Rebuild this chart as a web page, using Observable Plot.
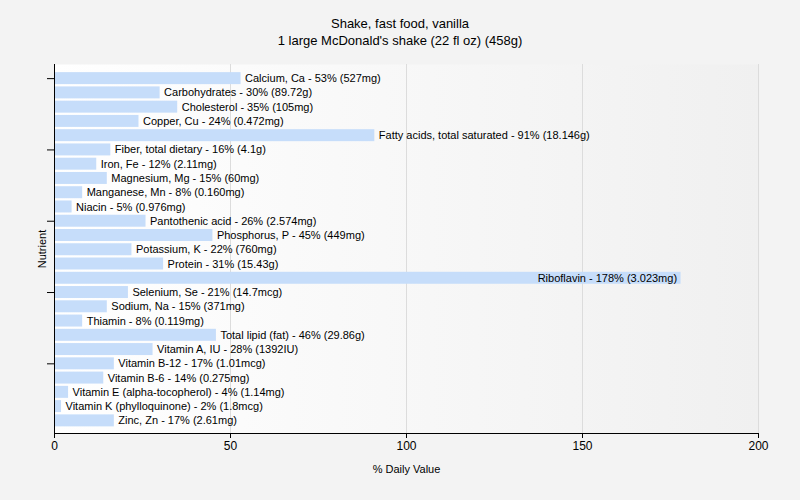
<!DOCTYPE html>
<html>
<head>
<meta charset="utf-8">
<script src="https://cdn.jsdelivr.net/npm/d3@7"></script>
<script src="https://cdn.jsdelivr.net/npm/@observablehq/plot@0.6"></script>
<style>
  html, body { margin: 0; padding: 0; background: #f3f3f3; }
  body { width: 800px; height: 500px; overflow: hidden; font-family: "Liberation Sans", Arial, sans-serif; }
  #title { height: 50px; box-sizing: border-box; padding-top: 15px; text-align: center; font-size: 13px; line-height: 17px; color: #000; }
</style>
</head>
<body>
<div id="title">Shake, fast food, vanilla<br>1 large McDonald's shake (22 fl oz) (458g)</div>
<div id="chart"></div>
<script>
const nutrients = [
  "Calcium, Ca", "Carbohydrates", "Cholesterol", "Copper, Cu", "Fatty acids, total saturated",
  "Fiber, total dietary", "Iron, Fe", "Magnesium, Mg", "Manganese, Mn", "Niacin",
  "Pantothenic acid", "Phosphorus, P", "Potassium, K", "Protein", "Riboflavin",
  "Selenium, Se", "Sodium, Na", "Thiamin", "Total lipid (fat)", "Vitamin A, IU",
  "Vitamin B-12", "Vitamin B-6", "Vitamin E (alpha-tocopherol)", "Vitamin K (phylloquinone)", "Zinc, Zn"
];
const dailyValue = [53, 30, 35, 24, 91, 16, 12, 15, 8, 5, 26, 45, 22, 31, 178, 21, 15, 8, 46, 28, 17, 14, 4, 2, 17];
const amounts = [
  "527mg", "89.72g", "105mg", "0.472mg", "18.146g",
  "4.1g", "2.11mg", "60mg", "0.160mg", "0.976mg",
  "2.574mg", "449mg", "760mg", "15.43g", "3.023mg",
  "14.7mcg", "371mg", "0.119mg", "29.86g", "1392IU",
  "1.01mcg", "0.275mg", "1.14mg", "1.8mcg", "2.61mg"
];
const xTicks = [0, 50, 100, 150, 200];
const yTickNutrients = ["Calcium, Ca", "Fiber, total dietary", "Pantothenic acid", "Selenium, Se", "Vitamin B-12"];

const data = nutrients.map((n, i) => ({
  nutrient: n,
  value: dailyValue[i],
  label: `${n} - ${dailyValue[i]}% (${amounts[i]})`
}));

const font = "Liberation Sans, Arial, sans-serif";

const axisLines = (index, scales, values, dimensions) => {
  const {width, height, marginLeft, marginRight, marginTop, marginBottom} = dimensions;
  const g = d3.create("svg:g").attr("stroke", "#000").attr("stroke-width", 1);
  const yb = height - marginBottom + 0.5;
  g.append("line").attr("x1", marginLeft).attr("x2", width - marginRight).attr("y1", yb).attr("y2", yb);
  g.append("line").attr("x1", marginLeft + 0.5).attr("x2", marginLeft + 0.5).attr("y1", marginTop).attr("y2", height - marginBottom);
  return g.node();
};

const plot = Plot.plot({
  width: 800,
  height: 450,
  marginLeft: 54,
  marginRight: 42,
  marginTop: 14,
  marginBottom: 67,
  style: {background: "transparent", fontFamily: font, fontSize: "12px", color: "#000"},
  x: {domain: [0, 200], label: null},
  y: {domain: nutrients, range: [21, 377.5], paddingInner: 0.16, paddingOuter: 0.08, round: false, label: null},
  marks: [
    Plot.frame({fill: "url(#plotbg)", stroke: "none"}),
    Plot.gridX({ticks: xTicks.slice(1), stroke: "#dcdcdc", strokeOpacity: 1}),
    Plot.barX(data, {x: "value", y: "nutrient", fill: "#c6ddfa"}),
    Plot.text(data.filter(d => d.value <= 150), {x: "value", y: "nutrient", text: "label", textAnchor: "start", dx: 4, fill: "#000", fontSize: 11}),
    Plot.text(data.filter(d => d.value > 150), {x: "value", y: "nutrient", text: "label", textAnchor: "end", dx: -4, fill: "#000", fontSize: 11}),
    axisLines,
    Plot.axisX({ticks: xTicks, tickSize: 5, tickPadding: 3, fontSize: 12, label: null}),
    Plot.axisY({ticks: yTickNutrients, tickSize: 7, tickFormat: () => "", label: null}),
    Plot.text(["% Daily Value"], {frameAnchor: "bottom", textAnchor: "middle", dy: 39, fontSize: 11, fill: "#000"}),
    Plot.text(["Nutrient"], {frameAnchor: "left", textAnchor: "middle", dx: -12, rotate: -90, fontSize: 11, fill: "#000"})
  ]
});

const svg = d3.select(plot);
const defs = svg.insert("defs", ":first-child");
const grad = defs.append("linearGradient").attr("id", "plotbg").attr("x1", "0%").attr("x2", "100%").attr("y1", "0%").attr("y2", "0%");
grad.append("stop").attr("offset", "0%").attr("stop-color", "#ffffff");
grad.append("stop").attr("offset", "100%").attr("stop-color", "#f0f0f0");

document.getElementById("chart").appendChild(plot);
</script>
</body>
</html>
